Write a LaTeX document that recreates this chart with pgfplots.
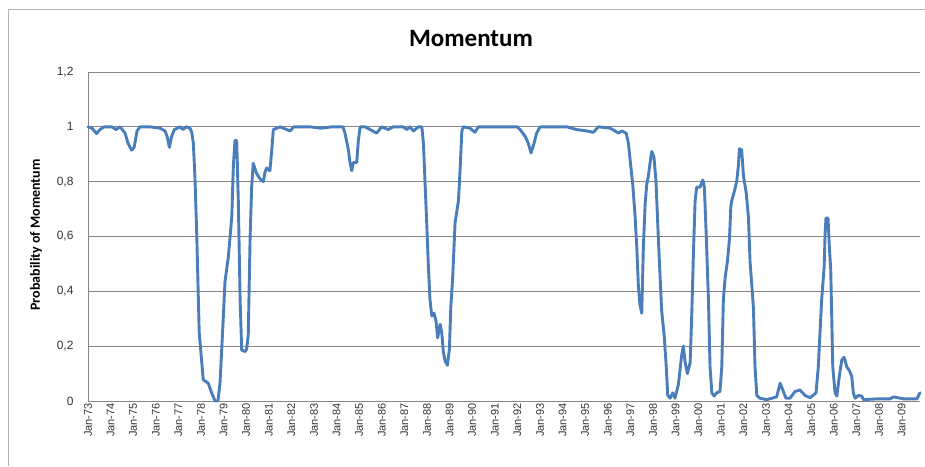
\documentclass[border=0pt]{standalone}
\usepackage{fontspec}
\setmainfont{Liberation Sans}
\newfontfamily\calib{Carlito}
\usepackage{pgfplots}
\pgfplotsset{compat=1.18}
\definecolor{lineblue}{RGB}{74,126,187}
\definecolor{gridgray}{RGB}{134,134,134}
\begin{document}
\begin{tikzpicture}
\useasboundingbox (0pt,0pt) rectangle (925pt,466pt);
\draw[gray!60, line width=1pt] (8pt,0pt) -- (8pt,456pt) -- (925pt,456pt);
\node[font=\calib\bfseries\fontsize{25}{25}\selectfont] at (471pt,428pt) {Momentum};
\node[rotate=90, font=\calib\bfseries\fontsize{14}{14}\selectfont] at (36pt,231pt) {Probability of Momentum};
\begin{axis}[
  at={(88pt,65pt)}, anchor=south west,
  scale only axis, width=832pt, height=329pt,
  xmin=1973, xmax=2009.81, ymin=0, ymax=1.2,
  axis x line*=bottom, axis y line*=left,
  axis line style={gridgray, line width=1pt},
  major tick length=0pt,
  xtick={1973,...,2009},
  xticklabels={Jan-73,Jan-74,Jan-75,Jan-76,Jan-77,Jan-78,Jan-79,Jan-80,Jan-81,Jan-82,Jan-83,Jan-84,Jan-85,Jan-86,Jan-87,Jan-88,Jan-89,Jan-90,Jan-91,Jan-92,Jan-93,Jan-94,Jan-95,Jan-96,Jan-97,Jan-98,Jan-99,Jan-00,Jan-01,Jan-02,Jan-03,Jan-04,Jan-05,Jan-06,Jan-07,Jan-08,Jan-09},
  ytick={0,0.2,0.4,0.6,0.8,1,1.2},
  yticklabels={0,{0,2},{0,4},{0,6},{0,8},1,{1,2}},
  xticklabel style={rotate=90, anchor=east, font=\fontsize{11}{11}\selectfont, text=black!80, inner sep=2pt},
  yticklabel style={font=\fontsize{12}{12}\selectfont, text=black!80, xshift=-11pt},
  ymajorgrids, grid style={gridgray, line width=0.9pt},
  clip=false,
]
\addplot[lineblue, line width=2.9pt, line join=round, line cap=round] coordinates {
(1973.0,1.0)(1973.18,0.995)(1973.38,0.975)(1973.53,0.99)(1973.71,1.0)(1974.06,1.0)(1974.24,0.99)(1974.42,1.0)
(1974.64,0.977)(1974.77,0.94)(1974.93,0.915)(1975.04,0.925)(1975.17,0.985)(1975.3,1.0)(1975.74,1.0)(1976.19,0.995)
(1976.41,0.985)(1976.5,0.965)(1976.6,0.925)(1976.7,0.965)(1976.82,0.99)(1977.07,1.0)(1977.2,0.99)(1977.35,1.0)
(1977.51,0.995)(1977.59,0.98)(1977.66,0.94)(1977.73,0.82)(1977.81,0.61)(1977.92,0.25)(1978.1,0.077)(1978.32,0.065)
(1978.47,0.03)(1978.62,0.0)(1978.75,0.0)(1978.84,0.065)(1978.99,0.31)(1979.06,0.435)(1979.21,0.527)(1979.36,0.67)
(1979.43,0.855)(1979.5,0.95)(1979.58,0.95)(1979.65,0.73)(1979.73,0.37)(1979.8,0.186)(1979.95,0.18)(1980.02,0.19)
(1980.09,0.24)(1980.17,0.59)(1980.24,0.78)(1980.31,0.867)(1980.46,0.83)(1980.61,0.81)(1980.76,0.80)(1980.83,0.835)
(1980.91,0.85)(1981.05,0.84)(1981.13,0.916)(1981.2,0.99)(1981.5,1.0)(1981.94,0.985)(1982.1,1.0)(1982.38,1.0)
(1982.82,1.0)(1983.3,0.995)(1983.8,1.0)(1984.28,1.0)(1984.37,0.977)(1984.52,0.916)(1984.59,0.87)(1984.67,0.84)
(1984.74,0.87)(1984.89,0.87)(1984.96,0.95)(1985.04,1.0)(1985.26,1.0)(1985.48,0.99)(1985.77,0.977)(1985.99,1.0)
(1986.29,0.99)(1986.5,1.0)(1986.94,1.0)(1987.1,0.99)(1987.25,1.0)(1987.39,0.985)(1987.62,1.0)(1987.77,1.0)
(1987.84,0.94)(1987.91,0.80)(1987.99,0.64)(1988.06,0.49)(1988.13,0.37)(1988.21,0.31)(1988.31,0.32)(1988.4,0.29)
(1988.47,0.23)(1988.58,0.28)(1988.65,0.25)(1988.72,0.18)(1988.8,0.145)(1988.9,0.13)(1988.99,0.19)(1989.05,0.34)
(1989.14,0.46)(1989.24,0.65)(1989.39,0.73)(1989.46,0.84)(1989.54,0.985)(1989.61,1.0)(1989.9,0.995)(1990.12,0.98)
(1990.27,1.0)(1991.0,1.0)(1991.98,1.0)(1992.12,0.99)(1992.34,0.965)(1992.48,0.94)(1992.6,0.905)(1992.7,0.93)
(1992.85,0.977)(1993.0,1.0)(1994.18,1.0)(1994.62,0.99)(1995.07,0.985)(1995.36,0.98)(1995.58,1.0)(1996.1,0.995)
(1996.32,0.985)(1996.47,0.977)(1996.61,0.985)(1996.81,0.977)(1996.91,0.94)(1997.01,0.86)(1997.1,0.79)(1997.2,0.68)
(1997.28,0.56)(1997.35,0.42)(1997.42,0.35)(1997.5,0.32)(1997.57,0.56)(1997.65,0.72)(1997.72,0.79)(1997.79,0.82)
(1997.87,0.87)(1997.94,0.91)(1998.04,0.89)(1998.13,0.80)(1998.23,0.60)(1998.38,0.33)(1998.49,0.24)(1998.58,0.13)
(1998.65,0.02)(1998.75,0.01)(1998.87,0.03)(1998.97,0.01)(1999.12,0.06)(1999.27,0.17)(1999.34,0.20)(1999.42,0.14)
(1999.52,0.10)(1999.64,0.14)(1999.71,0.31)(1999.79,0.55)(1999.86,0.73)(1999.93,0.78)(2000.08,0.78)(2000.2,0.806)
(2000.27,0.78)(2000.35,0.61)(2000.45,0.37)(2000.52,0.125)(2000.6,0.03)(2000.7,0.018)(2000.82,0.03)(2000.96,0.035)
(2001.04,0.125)(2001.11,0.37)(2001.19,0.45)(2001.29,0.51)(2001.38,0.59)(2001.44,0.71)(2001.48,0.73)(2001.58,0.76)
(2001.7,0.80)(2001.77,0.855)(2001.82,0.92)(2001.92,0.916)(2002.0,0.82)(2002.12,0.76)(2002.22,0.67)(2002.29,0.51)
(2002.37,0.42)(2002.44,0.34)(2002.51,0.125)(2002.59,0.02)(2002.73,0.01)(2003.03,0.005)(2003.47,0.015)(2003.62,0.065)
(2003.74,0.04)(2003.88,0.01)(2004.06,0.01)(2004.28,0.035)(2004.5,0.04)(2004.73,0.02)(2004.95,0.012)(2005.21,0.03)
(2005.31,0.125)(2005.46,0.37)(2005.57,0.49)(2005.61,0.61)(2005.65,0.667)(2005.74,0.667)(2005.8,0.56)(2005.86,0.48)
(2005.95,0.125)(2006.05,0.03)(2006.13,0.018)(2006.24,0.09)(2006.35,0.15)(2006.45,0.16)(2006.57,0.125)(2006.69,0.11)
(2006.79,0.09)(2006.86,0.03)(2006.94,0.01)(2007.08,0.02)(2007.23,0.018)(2007.31,0.005)(2008.0,0.008)(2008.49,0.008)
(2008.63,0.015)(2009.08,0.008)(2009.67,0.008)(2009.81,0.03)
};
\end{axis}
\end{tikzpicture}
\end{document}
